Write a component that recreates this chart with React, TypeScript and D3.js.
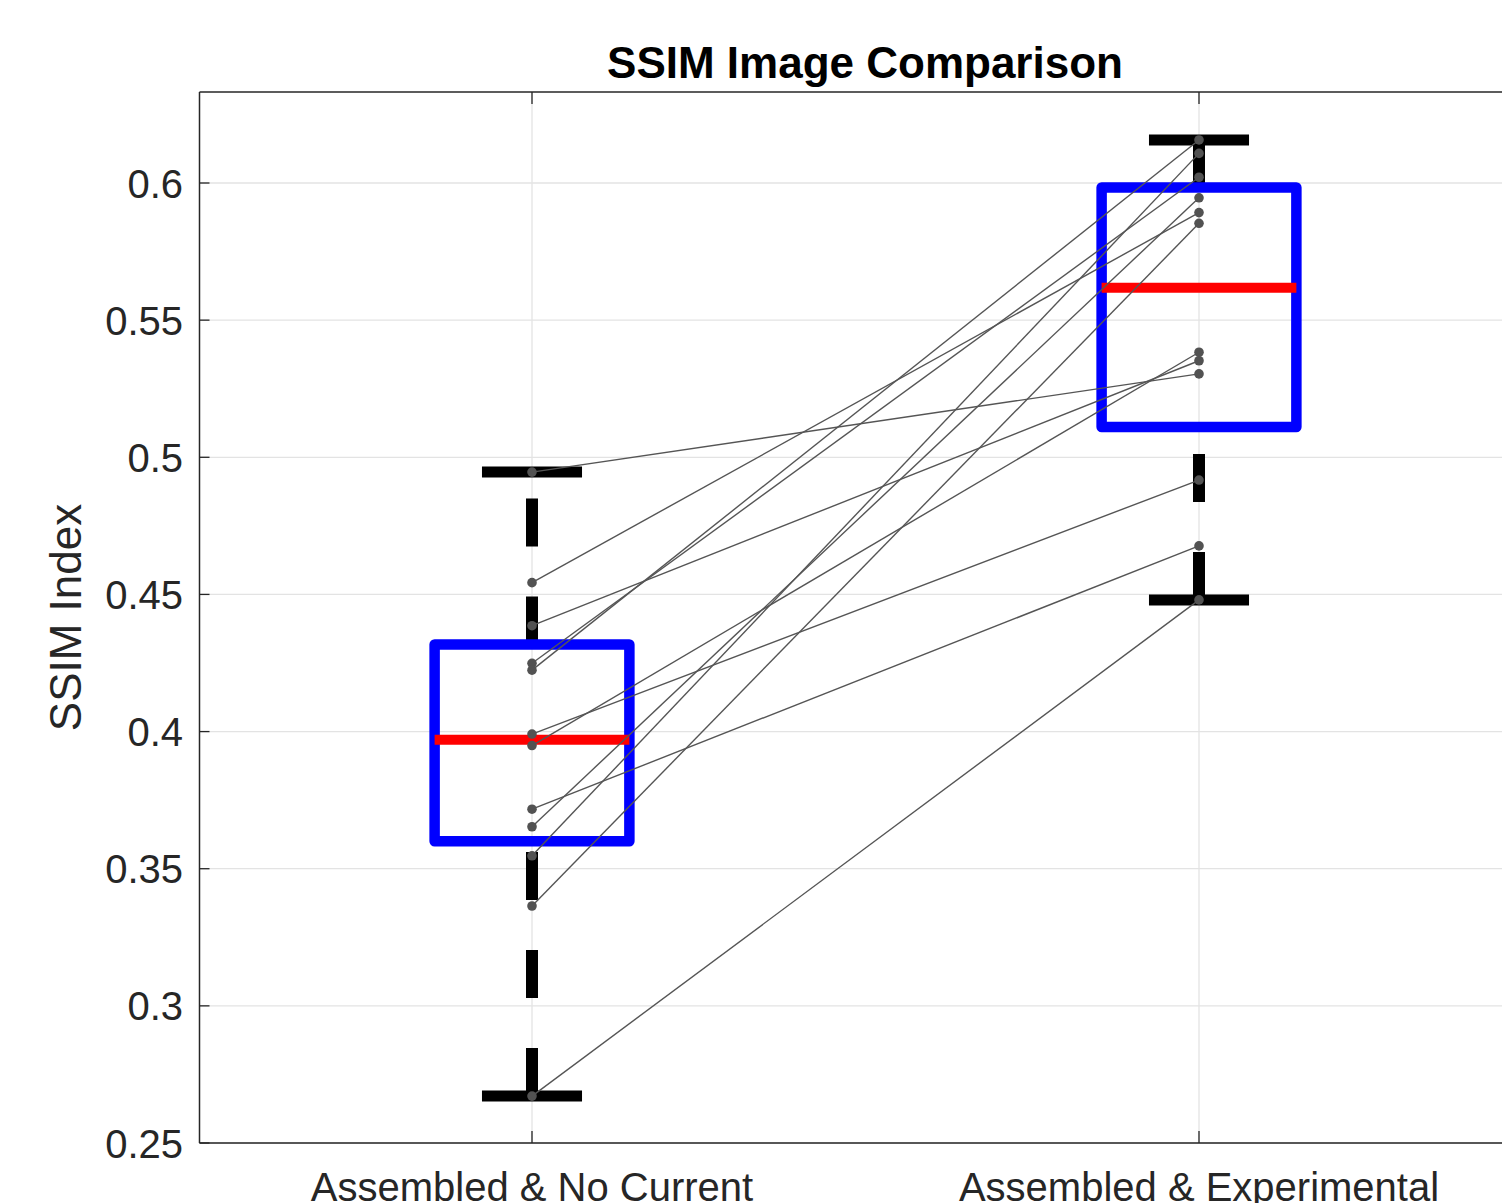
import React from "react";
import * as d3 from "d3";

const categories = ["Assembled & No Current", "Assembled & Experimental"];
const noCurrent = [0.4946, 0.4543, 0.4386, 0.4249, 0.4224, 0.3991, 0.3949, 0.3717, 0.3653, 0.3547, 0.3364, 0.2671];
const experimental = [0.5304, 0.5892, 0.5352, 0.6021, 0.6157, 0.4917, 0.5383, 0.4677, 0.5946, 0.6108, 0.5853, 0.448];
const yTicks = [0.25, 0.3, 0.35, 0.4, 0.45, 0.5, 0.55, 0.6];
const yTickLabels = ["0.25", "0.3", "0.35", "0.4", "0.45", "0.5", "0.55", "0.6"];
const title = "SSIM Image Comparison";
const yLabel = "SSIM Index";

// MATLAB-style percentile
function prctile(vals: number[], p: number) {
  const s = [...vals].sort((a, b) => a - b);
  const n = s.length;
  const pos = (n * p) / 100 + 0.5; // 1-based
  if (pos <= 1) return s[0];
  if (pos >= n) return s[n - 1];
  const lo = Math.floor(pos);
  const f = pos - lo;
  return s[lo - 1] + f * (s[lo] - s[lo - 1]);
}

function boxStats(vals: number[]) {
  const q1 = prctile(vals, 25);
  const med = prctile(vals, 50);
  const q3 = prctile(vals, 75);
  const iqr = q3 - q1;
  const hiF = q3 + 1.5 * iqr;
  const loF = q1 - 1.5 * iqr;
  const inside = vals.filter((v) => v >= loF && v <= hiF);
  return { q1, med, q3, lo: d3.min(inside)!, hi: d3.max(inside)! };
}

export default function App() {
  const W = 1502;
  const H = 1203;
  const axLeft = 199.5;
  const axTop = 92;
  const axBottom = 1143;
  const x = d3.scaleLinear().domain([0.5, 2.5]).range([198.5, 1532.5]);
  const y = d3.scaleLinear().domain([0.25, 0.6]).range([1143, 183]);
  const boxW = 0.292;
  const capW = 0.15;
  const series = [noCurrent, experimental];
  const stats = series.map(boxStats);
  const font = "'Liberation Sans', Arial, Helvetica, sans-serif";
  const gridColor = "#e3e3e3";
  const axisColor = "#262626";

  return (
    <svg
      width={W}
      height={H}
      style={{ position: "absolute", left: 0, top: 0, background: "#fff" }}
    >
      <rect x={0} y={0} width={W} height={H} fill="#fff" />
      {/* grid */}
      {yTicks.map((t) => (
        <line key={"gy" + t} x1={axLeft} x2={W} y1={y(t)} y2={y(t)} stroke={gridColor} strokeWidth={1.3} />
      ))}
      {categories.map((c, i) => (
        <line key={"gx" + i} x1={x(i + 1)} x2={x(i + 1)} y1={axTop} y2={axBottom} stroke={gridColor} strokeWidth={1.3} />
      ))}
      {/* boxes */}
      {stats.map((s, i) => {
        const cx = x(i + 1);
        const bl = x(i + 1 - boxW / 2);
        const br = x(i + 1 + boxW / 2);
        const cl = x(i + 1 - capW / 2);
        const cr = x(i + 1 + capW / 2);
        return (
          <g key={"box" + i}>
            <line x1={cx} x2={cx} y1={y(s.q3)} y2={y(s.hi)} stroke="#000" strokeWidth={12} strokeDasharray="48 50" />
            <line x1={cx} x2={cx} y1={y(s.lo)} y2={y(s.q1)} stroke="#000" strokeWidth={12} strokeDasharray="48 50" />
            <line x1={cl} x2={cr} y1={y(s.hi)} y2={y(s.hi)} stroke="#000" strokeWidth={11} />
            <line x1={cl} x2={cr} y1={y(s.lo)} y2={y(s.lo)} stroke="#000" strokeWidth={11} />
            <rect
              x={bl}
              y={y(s.q3)}
              width={br - bl}
              height={y(s.q1) - y(s.q3)}
              fill="none"
              stroke="#0000ff"
              strokeWidth={10.5}
              strokeLinejoin="round"
            />
            <line x1={bl} x2={br} y1={y(s.med)} y2={y(s.med)} stroke="#ff0000" strokeWidth={10} />
          </g>
        );
      })}
      {/* paired lines */}
      {noCurrent.map((v, i) => (
        <line
          key={"pl" + i}
          x1={x(1)}
          x2={x(2)}
          y1={y(v)}
          y2={y(experimental[i])}
          stroke="#555555"
          strokeWidth={1.4}
        />
      ))}
      {series.map((vals, si) =>
        vals.map((v, i) => (
          <circle key={"pt" + si + "-" + i} cx={x(si + 1)} cy={y(v)} r={4.8} fill="#525252" />
        ))
      )}
      {/* axes */}
      <line x1={axLeft} x2={W} y1={axTop} y2={axTop} stroke={axisColor} strokeWidth={1.5} />
      <line x1={axLeft} x2={W} y1={axBottom} y2={axBottom} stroke={axisColor} strokeWidth={1.5} />
      <line x1={axLeft} x2={axLeft} y1={axTop} y2={axBottom} stroke={axisColor} strokeWidth={1.5} />
      {yTicks.map((t, i) => (
        <g key={"yt" + t}>
          <line x1={axLeft} x2={axLeft + 10} y1={y(t)} y2={y(t)} stroke={axisColor} strokeWidth={1.3} />
          <text
            x={183}
            y={y(t) + 14.5}
            textAnchor="end"
            fontFamily={font}
            fontSize={40}
            fill="#262626"
          >
            {yTickLabels[i]}
          </text>
        </g>
      ))}
      {categories.map((c, i) => (
        <g key={"xt" + i}>
          <line x1={x(i + 1)} x2={x(i + 1)} y1={axBottom} y2={axBottom - 12} stroke={axisColor} strokeWidth={1.3} />
          <line x1={x(i + 1)} x2={x(i + 1)} y1={axTop} y2={axTop + 12} stroke={axisColor} strokeWidth={1.3} />
          <text x={x(i + 1)} y={1201} textAnchor="middle" fontFamily={font} fontSize={40} fill="#262626">
            {c}
          </text>
        </g>
      ))}
      <text
        x={865}
        y={78}
        textAnchor="middle"
        fontFamily={font}
        fontSize={44}
        fontWeight="bold"
        fill="#000"
      >
        {title}
      </text>
      <text
        transform={`translate(81, ${(axTop + axBottom) / 2}) rotate(-90)`}
        textAnchor="middle"
        fontFamily={font}
        fontSize={44}
        fill="#262626"
      >
        {yLabel}
      </text>
    </svg>
  );
}
